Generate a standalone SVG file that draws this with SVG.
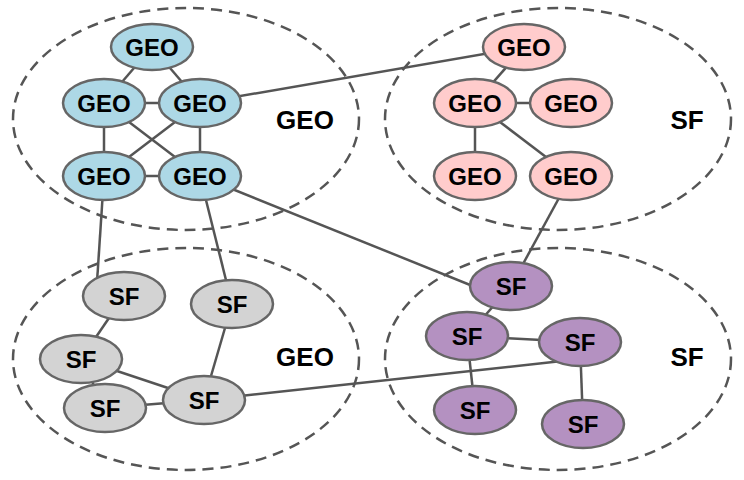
<svg xmlns="http://www.w3.org/2000/svg" width="744" height="480" viewBox="0 0 744 480">
<style>
.grp{fill:none;stroke:#555;stroke-width:2.5;stroke-dasharray:11 7}
.e{stroke:#555;stroke-width:2.5;fill:none}
.n ellipse{stroke:#666;stroke-width:2.5}
.blue ellipse{fill:#add8e6}
.pink ellipse{fill:#ffcccc}
.gray ellipse{fill:#d3d3d3}
.purple ellipse{fill:#b491c1}
text{font-family:"Liberation Sans",Arial,sans-serif;font-weight:bold;text-anchor:middle;dominant-baseline:central;fill:#000}
.n text{font-size:24px}
.lbl{font-size:26px}
</style>
<rect width="744" height="480" fill="#fff"/>
<g id="groups">
<ellipse class="grp" cx="186" cy="119" rx="173" ry="111"/>
<ellipse class="grp" cx="558" cy="119" rx="173" ry="111"/>
<ellipse class="grp" cx="186" cy="359" rx="173" ry="111"/>
<ellipse class="grp" cx="558" cy="359" rx="173" ry="111"/>
<text class="lbl" x="305" y="120">GEO</text>
<text class="lbl" x="687" y="120">SF</text>
<text class="lbl" x="305" y="357">GEO</text>
<text class="lbl" x="687" y="357">SF</text>
</g>
<g id="connectors">
<line class="e" x1="152" y1="47" x2="104" y2="103"/>
<line class="e" x1="152" y1="47" x2="200" y2="103"/>
<line class="e" x1="104" y1="103" x2="200" y2="103"/>
<line class="e" x1="104" y1="103" x2="104" y2="176"/>
<line class="e" x1="200" y1="103" x2="200" y2="176"/>
<line class="e" x1="104" y1="103" x2="200" y2="176"/>
<line class="e" x1="200" y1="103" x2="104" y2="176"/>
<line class="e" x1="104" y1="176" x2="200" y2="176"/>
<line class="e" x1="200" y1="103" x2="524" y2="47"/>
<line class="e" x1="104" y1="176" x2="97" y2="282"/>
<line class="e" x1="200" y1="176" x2="232" y2="304"/>
<line class="e" x1="200" y1="176" x2="490" y2="293"/>
<line class="e" x1="524" y1="47" x2="475" y2="103"/>
<line class="e" x1="475" y1="103" x2="571" y2="103"/>
<line class="e" x1="475" y1="103" x2="475" y2="176"/>
<line class="e" x1="475" y1="103" x2="571" y2="176"/>
<line class="e" x1="571" y1="176" x2="511" y2="286"/>
<line class="e" x1="124" y1="296" x2="81" y2="359"/>
<line class="e" x1="81" y1="359" x2="204" y2="400"/>
<line class="e" x1="81" y1="359" x2="105" y2="408"/>
<line class="e" x1="105" y1="408" x2="204" y2="400"/>
<line class="e" x1="232" y1="304" x2="204" y2="400"/>
<line class="e" x1="204" y1="400" x2="562" y2="361"/>
<line class="e" x1="511" y1="286" x2="467" y2="336"/>
<line class="e" x1="467" y1="336" x2="580" y2="342"/>
<line class="e" x1="467" y1="336" x2="475" y2="410"/>
<line class="e" x1="580" y1="342" x2="583" y2="424"/>
</g>
<g id="tl1" class="n blue"><ellipse cx="152" cy="47" rx="41" ry="23"/><text x="152" y="47">GEO</text></g>
<g id="tl2" class="n blue"><ellipse cx="104" cy="103" rx="41" ry="24"/><text x="104" y="103">GEO</text></g>
<g id="tl3" class="n blue"><ellipse cx="200" cy="103" rx="41" ry="24"/><text x="200" y="103">GEO</text></g>
<g id="tl4" class="n blue"><ellipse cx="104" cy="176" rx="41" ry="24"/><text x="104" y="176">GEO</text></g>
<g id="tl5" class="n blue"><ellipse cx="200" cy="176" rx="41" ry="24"/><text x="200" y="176">GEO</text></g>
<g id="tr1" class="n pink"><ellipse cx="524" cy="47" rx="41" ry="23"/><text x="524" y="47">GEO</text></g>
<g id="tr2" class="n pink"><ellipse cx="475" cy="103" rx="41" ry="24"/><text x="475" y="103">GEO</text></g>
<g id="tr3" class="n pink"><ellipse cx="571" cy="103" rx="41" ry="24"/><text x="571" y="103">GEO</text></g>
<g id="tr4" class="n pink"><ellipse cx="475" cy="176" rx="41" ry="24"/><text x="475" y="176">GEO</text></g>
<g id="tr5" class="n pink"><ellipse cx="571" cy="176" rx="41" ry="24"/><text x="571" y="176">GEO</text></g>
<g id="bl1" class="n gray"><ellipse cx="124" cy="296" rx="41" ry="24"/><text x="124" y="296">SF</text></g>
<g id="bl2" class="n gray"><ellipse cx="232" cy="304" rx="41" ry="24"/><text x="232" y="304">SF</text></g>
<g id="bl3" class="n gray"><ellipse cx="81" cy="359" rx="41" ry="24"/><text x="81" y="359">SF</text></g>
<g id="bl4" class="n gray"><ellipse cx="105" cy="408" rx="41" ry="24"/><text x="105" y="408">SF</text></g>
<g id="bl5" class="n gray"><ellipse cx="204" cy="400" rx="41" ry="24"/><text x="204" y="400">SF</text></g>
<g id="br1" class="n purple"><ellipse cx="511" cy="286" rx="41" ry="24"/><text x="511" y="286">SF</text></g>
<g id="br2" class="n purple"><ellipse cx="467" cy="336" rx="41" ry="24"/><text x="467" y="336">SF</text></g>
<g id="br3" class="n purple"><ellipse cx="580" cy="342" rx="41" ry="24"/><text x="580" y="342">SF</text></g>
<g id="br4" class="n purple"><ellipse cx="475" cy="410" rx="41" ry="24"/><text x="475" y="410">SF</text></g>
<g id="br5" class="n purple"><ellipse cx="583" cy="424" rx="41" ry="24"/><text x="583" y="424">SF</text></g>
</svg>
